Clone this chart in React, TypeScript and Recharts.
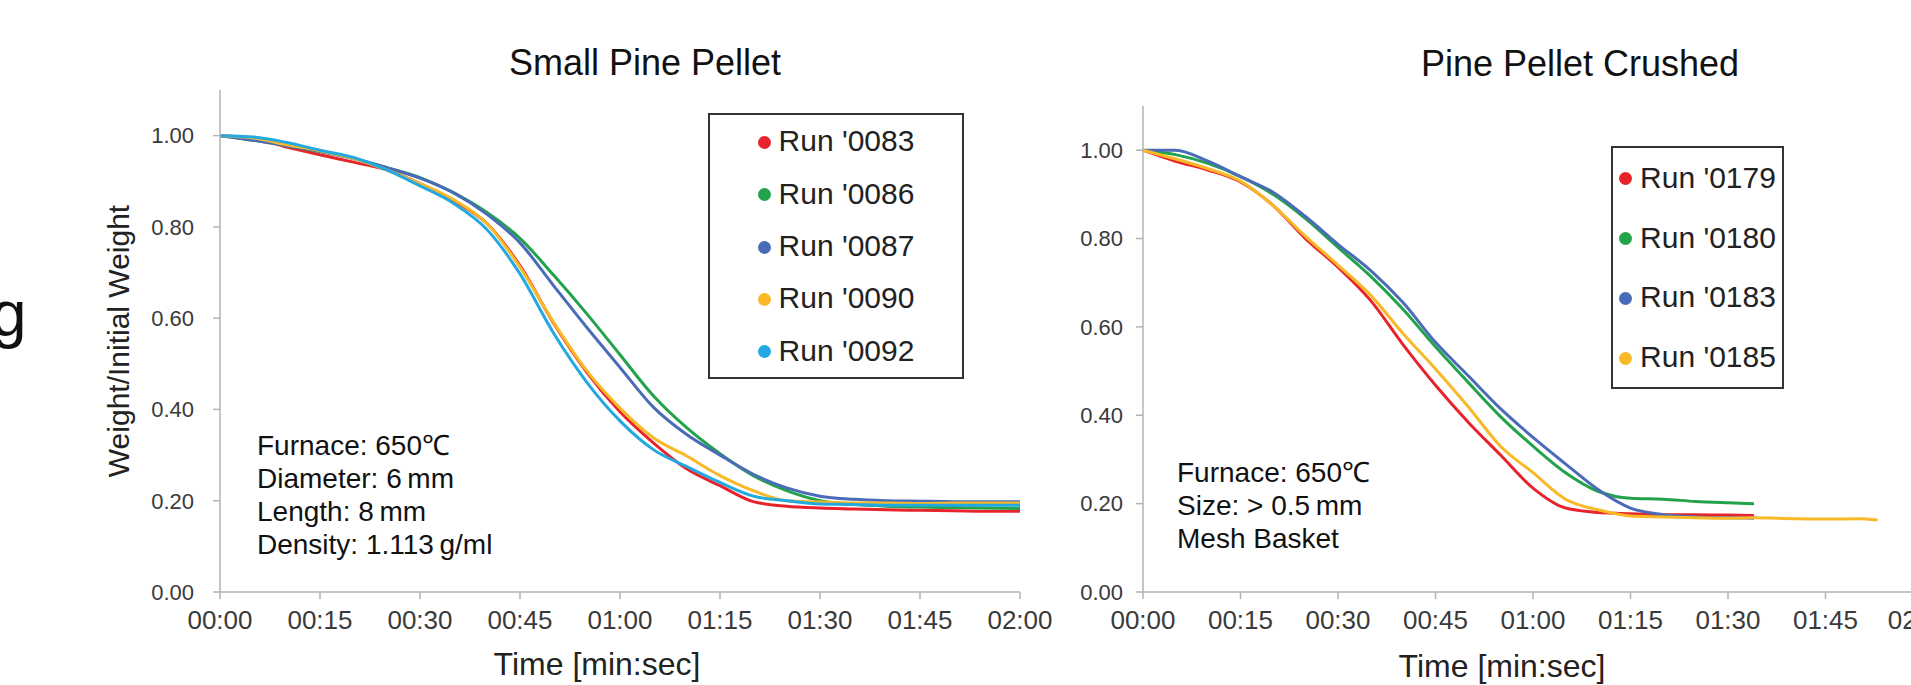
import { Legend, Line, LineChart, XAxis, YAxis } from 'recharts';

const FONT = '"Liberation Sans", Arial, sans-serif';

const RED = '#e8232b';
const GREEN = '#22a24b';
const BLUE = '#4a6cb8';
const YELLOW = '#f9b926';
const CYAN = '#23a9e1';

// seconds
const timeTicks = [0, 15, 30, 45, 60, 75, 90, 105, 120];
const weightTicks = [0, 0.2, 0.4, 0.6, 0.8, 1.0];

// Small Pine Pellet
const pelletTimes = [0, 5, 10, 15, 20, 25, 30, 35, 40, 45, 50, 55, 60, 65, 70, 75, 80, 85, 90, 95, 100, 105, 110, 115, 120];
const run0083 = [1.0, 0.995, 0.975, 0.958, 0.942, 0.925, 0.895, 0.858, 0.808, 0.715, 0.59, 0.482, 0.395, 0.327, 0.27, 0.233, 0.198, 0.188, 0.184, 0.182, 0.18, 0.179, 0.178, 0.177, 0.177];
const run0086 = [1.0, 0.99, 0.978, 0.965, 0.95, 0.93, 0.908, 0.875, 0.832, 0.775, 0.695, 0.61, 0.52, 0.43, 0.36, 0.303, 0.255, 0.222, 0.2, 0.192, 0.188, 0.186, 0.185, 0.184, 0.183];
const run0087 = [1.0, 0.99, 0.978, 0.966, 0.95, 0.93, 0.907, 0.875, 0.828, 0.765, 0.672, 0.58, 0.492, 0.405, 0.345, 0.3, 0.258, 0.228, 0.21, 0.203, 0.2, 0.199, 0.198, 0.198, 0.198];
const run0090 = [1.0, 0.995, 0.98, 0.967, 0.95, 0.925, 0.895, 0.86, 0.808, 0.712, 0.592, 0.485, 0.403, 0.338, 0.298, 0.255, 0.222, 0.2, 0.197, 0.195, 0.195, 0.194, 0.195, 0.195, 0.195];
const run0092 = [1.0, 0.997, 0.985, 0.968, 0.952, 0.925, 0.89, 0.852, 0.795, 0.697, 0.568, 0.46, 0.375, 0.312, 0.275, 0.24, 0.21, 0.2, 0.193, 0.192, 0.19, 0.19, 0.19, 0.19, 0.19];

// Pine Pellet Crushed
const crushedTimes = [0, 5, 10, 15, 20, 25, 30, 35, 40, 45, 50, 55, 60, 65, 70, 75, 80, 85, 90, 94, 100, 105, 110, 113];
const run0179 = [1.0, 0.975, 0.955, 0.928, 0.875, 0.8, 0.735, 0.66, 0.56, 0.468, 0.385, 0.31, 0.235, 0.19, 0.18, 0.177, 0.175, 0.175, 0.174, 0.173, null, null, null, null];
const run0180 = [1.0, 0.99, 0.97, 0.94, 0.9, 0.845, 0.78, 0.715, 0.64, 0.555, 0.475, 0.397, 0.33, 0.27, 0.228, 0.212, 0.21, 0.205, 0.202, 0.2, null, null, null, null];
const run0183 = [1.0, 1.0, 0.975, 0.94, 0.905, 0.85, 0.787, 0.728, 0.655, 0.565, 0.49, 0.415, 0.35, 0.29, 0.232, 0.19, 0.175, 0.17, 0.168, 0.167, null, null, null, null];
const run0185 = [1.0, 0.98, 0.958, 0.93, 0.875, 0.805, 0.74, 0.672, 0.585, 0.505, 0.42, 0.33, 0.27, 0.21, 0.186, 0.172, 0.17, 0.168, 0.167, 0.168, 0.166, 0.165, 0.166, 0.163];

const pelletData = pelletTimes.map((t, i) => ({
  t,
  r0083: run0083[i],
  r0086: run0086[i],
  r0087: run0087[i],
  r0090: run0090[i],
  r0092: run0092[i],
}));

const crushedData = crushedTimes.map((t, i) => ({
  t,
  r0179: run0179[i],
  r0180: run0180[i],
  r0183: run0183[i],
  r0185: run0185[i],
}));

const fmtTime = (t: number) =>
  `${String(Math.floor(t / 60)).padStart(2, '0')}:${String(t % 60).padStart(2, '0')}`;
const fmtWeight = (v: number) => v.toFixed(2);

const axisColor = '#b3b3b3';

function RunLegend({ payload }: any) {
  return (
    <div
      style={{
        width: '100%',
        height: '100%',
        boxSizing: 'border-box',
        border: '2px solid #333',
        background: '#fff',
        display: 'flex',
        flexDirection: 'column',
      }}
    >
      {(payload || []).map((p: any) => (
        <div
          key={p.value}
          style={{
            flex: 1,
            display: 'flex',
            alignItems: 'center',
            justifyContent: 'center',
            fontFamily: FONT,
            fontSize: 30,
            color: '#222',
          }}
        >
          <span
            style={{
              width: 13,
              height: 13,
              borderRadius: '50%',
              background: p.color,
              marginRight: 8,
              marginTop: 2,
            }}
          />
          {p.value}
        </div>
      ))}
    </div>
  );
}

function Note({ left, top, lines }: { left: number; top: number; lines: string[] }) {
  return (
    <div
      style={{
        position: 'absolute',
        left,
        top,
        fontFamily: FONT,
        fontSize: 28,
        lineHeight: '33px',
        color: '#111',
        whiteSpace: 'nowrap',
      }}
    >
      {lines.map((l) => (
        <div key={l}>{l}</div>
      ))}
    </div>
  );
}

function Title({ cx, top, text }: { cx: number; top: number; text: string }) {
  return (
    <div
      style={{
        position: 'absolute',
        left: cx - 300,
        width: 600,
        top,
        textAlign: 'center',
        fontFamily: FONT,
        fontSize: 36,
        lineHeight: 1,
        color: '#111',
      }}
    >
      {text}
    </div>
  );
}

const tickStyleY = { fontSize: 22, fill: '#3a3a3a', fontFamily: FONT };
const tickStyleX = { fontSize: 26, fill: '#3a3a3a', fontFamily: FONT };
const axisLabelStyle = { fontSize: 32, fill: '#222', fontFamily: FONT, textAnchor: 'middle' as const };

export default function App() {
  return (
    <div style={{ position: 'relative', width: 1911, height: 685, overflow: 'hidden', background: '#fff' }}>
      <style>{'body{margin:0;overflow:hidden;background:#fff}'}</style>

      <div
        style={{
          position: 'absolute',
          left: -9,
          top: 282,
          fontFamily: FONT,
          fontSize: 64,
          lineHeight: 1,
          color: '#111',
        }}
      >
        g
      </div>

      <div style={{ position: 'absolute', left: 0, top: 0 }}>
        <LineChart width={1060} height={685} data={pelletData} margin={{ top: 90, right: 40, bottom: 0, left: 140 }}>
          <XAxis
            dataKey="t"
            type="number"
            domain={[0, 120]}
            ticks={timeTicks}
            tickFormatter={fmtTime}
            height={93}
            stroke={axisColor}
            strokeWidth={1.5}
            tickSize={7}
            tickMargin={12}
            tick={tickStyleX}
            label={{ value: 'Time [min:sec]', position: 'insideBottom', offset: 10, dx: -23, style: axisLabelStyle }}
          />
          <YAxis
            type="number"
            domain={[0, 1.1]}
            ticks={weightTicks}
            tickFormatter={fmtWeight}
            width={80}
            stroke={axisColor}
            strokeWidth={1.5}
            tickSize={7}
            tickMargin={19}
            tick={tickStyleY}
            label={{
              value: 'Weight/Initial Weight',
              angle: -90,
              position: 'left',
              offset: 22,
              style: { ...axisLabelStyle, fontSize: 30 },
            }}
          />
          <Legend
            layout="vertical"
            align="center"
            verticalAlign="middle"
            content={<RunLegend />}
            wrapperStyle={{ left: 708, top: 113, width: 256, height: 266 }}
          />
          <Line type="monotone" dataKey="r0083" name="Run '0083" stroke={RED} strokeWidth={3} dot={false} isAnimationActive={false} />
          <Line type="monotone" dataKey="r0086" name="Run '0086" stroke={GREEN} strokeWidth={3} dot={false} isAnimationActive={false} />
          <Line type="monotone" dataKey="r0087" name="Run '0087" stroke={BLUE} strokeWidth={3} dot={false} isAnimationActive={false} />
          <Line type="monotone" dataKey="r0090" name="Run '0090" stroke={YELLOW} strokeWidth={3} dot={false} isAnimationActive={false} />
          <Line type="monotone" dataKey="r0092" name="Run '0092" stroke={CYAN} strokeWidth={3} dot={false} isAnimationActive={false} />
        </LineChart>
      </div>

      <div style={{ position: 'absolute', left: 1050, top: 0 }}>
        <LineChart width={900} height={685} data={crushedData} margin={{ top: 106, right: 27, bottom: 0, left: 33 }}>
          <XAxis
            dataKey="t"
            type="number"
            domain={[0, 120]}
            ticks={timeTicks}
            tickFormatter={fmtTime}
            height={93}
            stroke={axisColor}
            strokeWidth={1.5}
            tickSize={7}
            tickMargin={12}
            tick={tickStyleX}
            label={{ value: 'Time [min:sec]', position: 'insideBottom', offset: 8, dx: -31, style: axisLabelStyle }}
          />
          <YAxis
            type="number"
            domain={[0, 1.1]}
            ticks={weightTicks}
            tickFormatter={fmtWeight}
            width={60}
            stroke={axisColor}
            strokeWidth={1.5}
            tickSize={7}
            tickMargin={13}
            tick={tickStyleY}
          />
          <Legend
            layout="vertical"
            align="center"
            verticalAlign="middle"
            content={<RunLegend />}
            wrapperStyle={{ left: 561, top: 146, width: 173, height: 243 }}
          />
          <Line type="monotone" dataKey="r0179" name="Run '0179" stroke={RED} strokeWidth={3} dot={false} isAnimationActive={false} />
          <Line type="monotone" dataKey="r0180" name="Run '0180" stroke={GREEN} strokeWidth={3} dot={false} isAnimationActive={false} />
          <Line type="monotone" dataKey="r0183" name="Run '0183" stroke={BLUE} strokeWidth={3} dot={false} isAnimationActive={false} />
          <Line type="monotone" dataKey="r0185" name="Run '0185" stroke={YELLOW} strokeWidth={3} dot={false} isAnimationActive={false} />
        </LineChart>
      </div>

      <Title cx={645} top={45} text="Small Pine Pellet" />
      <Title cx={1580} top={46} text="Pine Pellet Crushed" />

      <Note left={257} top={429} lines={['Furnace: 650℃', 'Diameter: 6\u2009mm', 'Length: 8\u2009mm', 'Density: 1.113\u2009g/ml']} />
      <Note left={1177} top={456} lines={['Furnace: 650℃', 'Size: > 0.5\u2009mm', 'Mesh Basket']} />
    </div>
  );
}
